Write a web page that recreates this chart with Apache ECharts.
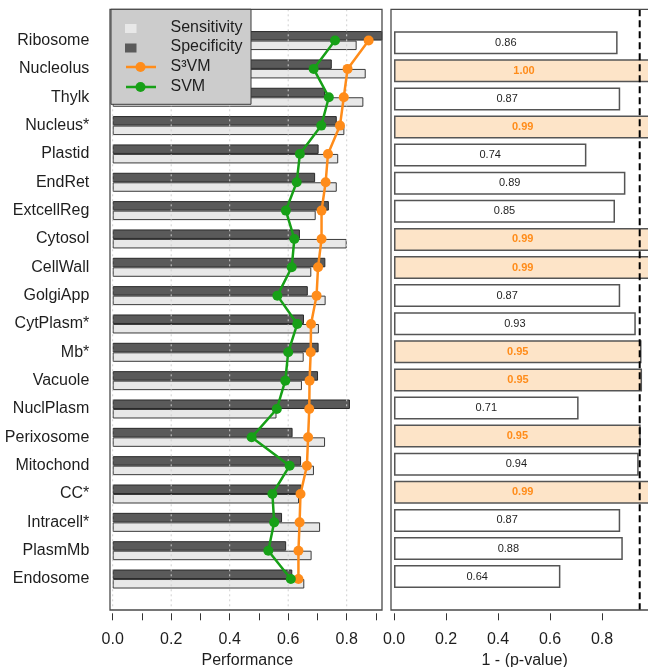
<!DOCTYPE html>
<html><head><meta charset="utf-8">
<script src="https://cdn.jsdelivr.net/npm/echarts@6/dist/echarts.min.js"></script>
<style>html,body{margin:0;padding:0;background:#fff}#c{width:648px;height:667px}</style>
</head><body><div id="c"></div>
<script>
const categories = ['Ribosome','Nucleolus','Thylk','Nucleus*','Plastid','EndRet','ExtcellReg','Cytosol','CellWall','GolgiApp','CytPlasm*','Mb*','Vacuole','NuclPlasm','Perixosome','Mitochond','CC*','Intracell*','PlasmMb','Endosome'];
const specificity = [0.95, 0.749, 0.726, 0.766, 0.704, 0.692, 0.739, 0.640, 0.727, 0.667, 0.654, 0.704, 0.702, 0.811, 0.615, 0.644, 0.646, 0.579, 0.593, 0.614];
const sensitivity = [0.834, 0.865, 0.857, 0.792, 0.771, 0.766, 0.694, 0.800, 0.679, 0.728, 0.705, 0.653, 0.647, 0.560, 0.726, 0.688, 0.637, 0.709, 0.680, 0.655];
const s3vm = [0.875, 0.803, 0.790, 0.777, 0.736, 0.728, 0.714, 0.714, 0.702, 0.697, 0.678, 0.677, 0.673, 0.672, 0.668, 0.664, 0.642, 0.639, 0.635, 0.635];
const svm = [0.760, 0.687, 0.739, 0.713, 0.640, 0.629, 0.592, 0.621, 0.612, 0.563, 0.631, 0.600, 0.590, 0.561, 0.475, 0.605, 0.546, 0.552, 0.532, 0.609];
const pValueScore = [0.86, 1.00, 0.87, 0.99, 0.74, 0.89, 0.85, 0.99, 0.99, 0.87, 0.93, 0.952, 0.954, 0.71, 0.949, 0.941, 0.99, 0.87, 0.88, 0.64];
const threshold = 0.945;
const perfTicks = [0, 0.1, 0.2, 0.3, 0.4, 0.5, 0.6, 0.7, 0.8, 0.9];
const perfLabels = [0, 0.2, 0.4, 0.6, 0.8];
const pTicks = [0, 0.2, 0.4, 0.6, 0.8];
const perfGridValues = [0, 0.2, 0.4, 0.6, 0.8];

const FONT = '"Liberation Sans", Arial, sans-serif';
const TXT = '#1e1e1e';
const ORANGE = '#ff8c1a';
const GREEN = '#17a017';
const PEACH = '#fde4c8';

const chart = echarts.init(document.getElementById('c'), null, {renderer: 'canvas'});

const rightData = pValueScore.map(v => {
  const hi = v >= threshold;
  return {
    value: v,
    itemStyle: {color: hi ? PEACH : '#ffffff'},
    label: hi ? {color: ORANGE, fontWeight: 'bold'} : {color: TXT, fontWeight: 'normal'}
  };
});

const axisText = {fontSize: 16, color: TXT, fontFamily: FONT};

chart.setOption({
  animation: false,
  grid: [
    {left: 112.7, top: 26.4, width: 269.1, height: 566.8, outerBoundsMode: 'none', containLabel: false},
    {left: 394, top: 28.65, width: 261.3, height: 562, outerBoundsMode: 'none', containLabel: false}
  ],
  xAxis: [
    {gridIndex: 0, type: 'value', min: 0, max: 0.92, position: 'bottom', offset: 20.1,
     axisLine: {show: false}, splitLine: {show: false},
     axisTick: {show: true, customValues: perfTicks, length: 7, lineStyle: {color: '#333', width: 1}},
     axisLabel: Object.assign({customValues: perfLabels, formatter: v => v.toFixed(1), margin: 18}, axisText),
     name: 'Performance', nameLocation: 'middle', nameGap: 37, nameTextStyle: axisText},
    {gridIndex: 1, type: 'value', min: 0, max: 1.005, position: 'bottom', offset: 22.65,
     axisLine: {show: false}, splitLine: {show: false},
     axisTick: {show: true, customValues: pTicks, length: 7, lineStyle: {color: '#333', width: 1}},
     axisLabel: Object.assign({customValues: pTicks, formatter: v => v.toFixed(1), margin: 18}, axisText),
     name: '1 - (p-value)', nameLocation: 'middle', nameGap: 37, nameTextStyle: axisText}
  ],
  yAxis: [
    {gridIndex: 0, type: 'category', data: categories, inverse: true,
     axisLine: {show: false}, axisTick: {show: false}, splitLine: {show: false},
     axisLabel: Object.assign({interval: 0, margin: 23.4}, axisText)},
    {gridIndex: 1, type: 'category', data: categories, inverse: true,
     axisLine: {show: false}, axisTick: {show: false}, splitLine: {show: false},
     axisLabel: {show: false}}
  ],
  series: [
    {name: 'Specificity', type: 'bar', xAxisIndex: 0, yAxisIndex: 0, data: specificity,
     barWidth: 9.5, barGap: '0%', z: 2,
     itemStyle: {color: '#5a5a5a', borderColor: '#2a2a2a', borderWidth: 1}},
    {name: 'Sensitivity', type: 'bar', xAxisIndex: 0, yAxisIndex: 0, data: sensitivity,
     barWidth: 9.5, barGap: '0%', z: 2,
     itemStyle: {color: '#e8e8e8', borderColor: '#3a3a3a', borderWidth: 1}},
    {name: 'S³VM', type: 'line', xAxisIndex: 0, yAxisIndex: 0, data: s3vm, z: 10,
     symbol: 'circle', symbolSize: 10, color: ORANGE,
     lineStyle: {color: ORANGE, width: 2.5}, itemStyle: {color: ORANGE}},
    {name: 'SVM', type: 'line', xAxisIndex: 0, yAxisIndex: 0, data: svm, z: 10,
     symbol: 'circle', symbolSize: 10, color: GREEN,
     lineStyle: {color: GREEN, width: 2.5}, itemStyle: {color: GREEN}},
    {name: '1 - (p-value)', type: 'bar', xAxisIndex: 1, yAxisIndex: 1, data: rightData,
     barWidth: 23, z: 2,
     itemStyle: {borderColor: '#555', borderWidth: 1.5},
     label: {show: true, position: 'inside', fontSize: 11, fontFamily: FONT,
             formatter: p => p.value.toFixed(2)}}
  ]
});

// reference lines, frames and legend (positions derived from the axes)
const FRAME_TOP = 9.3, FRAME_BOTTOM = 610;
const g = [];
perfGridValues.forEach(v => {
  const x = chart.convertToPixel({xAxisIndex: 0}, v);
  g.push({type: 'line', z: 5, silent: true,
    shape: {x1: x, y1: FRAME_TOP, x2: x, y2: FRAME_BOTTOM},
    style: {stroke: '#cfcfcf', lineWidth: 1, lineDash: [2, 3]}});
});
const tx = chart.convertToPixel({xAxisIndex: 1}, threshold);
g.push({type: 'line', z: 6, silent: true,
  shape: {x1: tx, y1: FRAME_TOP, x2: tx, y2: FRAME_BOTTOM},
  style: {stroke: '#000', lineWidth: 2, lineDash: [7, 4]}});
// frames
g.push({type: 'rect', z: 7, silent: true, shape: {x: 110, y: FRAME_TOP, width: 272, height: FRAME_BOTTOM - FRAME_TOP},
  style: {fill: 'none', stroke: '#4a4a4a', lineWidth: 1.3}});
g.push({type: 'rect', z: 7, silent: true, shape: {x: 391, y: FRAME_TOP, width: 300, height: FRAME_BOTTOM - FRAME_TOP},
  style: {fill: 'none', stroke: '#4a4a4a', lineWidth: 1.3}});
// legend
g.push({type: 'rect', z: 100, shape: {x: 111, y: FRAME_TOP, width: 140, height: 95},
  style: {fill: '#cccccc', stroke: '#3a3a3a', lineWidth: 1}});
const legItems = [
  {name: 'Sensitivity', kind: 'sq', color: '#e8e8e8', y: 27.5},
  {name: 'Specificity', kind: 'sq', color: '#5a5a5a', y: 47},
  {name: 'S³VM', kind: 'ln', color: ORANGE, y: 67},
  {name: 'SVM', kind: 'ln', color: GREEN, y: 87}
];
legItems.forEach(it => {
  if (it.kind === 'sq') {
    g.push({type: 'rect', z: 101, shape: {x: 125, y: it.y - 3.5, width: 11.5, height: 9},
      style: {fill: it.color}});
  } else {
    g.push({type: 'line', z: 101, shape: {x1: 126, y1: it.y, x2: 156, y2: it.y},
      style: {stroke: it.color, lineWidth: 2.5}});
    g.push({type: 'circle', z: 102, shape: {cx: 140.5, cy: it.y, r: 5}, style: {fill: it.color}});
  }
  g.push({type: 'text', z: 102, x: 170.5, y: it.y,
    style: {text: it.name, fontSize: 16, fontFamily: FONT, fill: TXT, verticalAlign: 'middle', align: 'left'}});
});
chart.setOption({graphic: g});
</script>
</body></html>
